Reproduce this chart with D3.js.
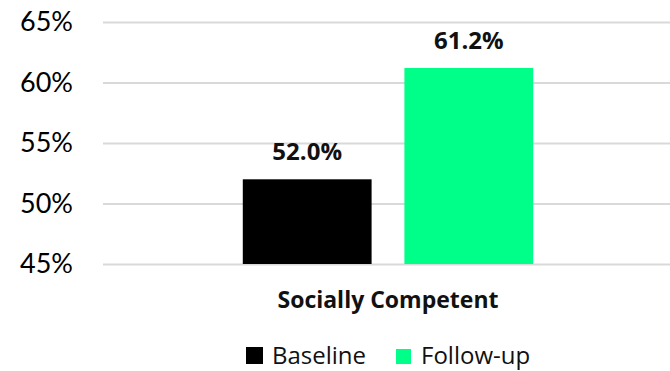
<!DOCTYPE html>
<html>
<head>
<meta charset="utf-8">
<script src="https://cdn.jsdelivr.net/npm/d3@7"></script>
<style>
  html, body { margin: 0; padding: 0; background: #fff; }
  svg { display: block; font-family: "Open Sans", Lato, sans-serif; }
</style>
</head>
<body>
<svg id="chart" width="670" height="371"></svg>
<script>
const categories = ["Socially Competent"];
const seriesNames = ["Baseline", "Follow-up"];
const baselineValues = [52.0];
const followupValues = [61.2];
const yTicks = [45, 50, 55, 60, 65];
const colors = ["#000000", "#00FF88"];

const svg = d3.select("#chart");
const plotLeft = 103, plotRight = 670, yTop = 22, yBottom = 264;

const y = d3.scaleLinear().domain([45, 65]).range([yBottom, yTop]);
const x0 = d3.scaleBand().domain(categories).range([plotLeft + 3, plotRight])
  .paddingInner(0).paddingOuter(0.471);
const x1 = d3.scaleBand().domain(seriesNames).range([0, x0.bandwidth()])
  .paddingInner(0.203).paddingOuter(0);
const color = d3.scaleOrdinal().domain(seriesNames).range(colors);

// gridlines
const yAxis = d3.axisLeft(y).tickValues(yTicks).tickFormat(d => d + "%")
  .tickSize(-(plotRight - plotLeft)).tickPadding(30);
const gAxis = svg.append("g").attr("transform", `translate(${plotLeft},0)`).call(yAxis);
gAxis.select(".domain").remove();
gAxis.selectAll(".tick line").attr("stroke", "#d9d9d9").attr("stroke-width", 2);
gAxis.selectAll(".tick text").attr("fill", "#000").style("font-size", "27px")
  .style("font-family", "Lato, 'Open Sans', sans-serif");

const data = categories.map((c, i) => ({
  category: c,
  values: [
    { series: seriesNames[0], value: baselineValues[i] },
    { series: seriesNames[1], value: followupValues[i] }
  ]
}));

const groups = svg.selectAll("g.group").data(data).enter().append("g")
  .attr("class", "group")
  .attr("transform", d => `translate(${x0(d.category)},0)`);

groups.selectAll("rect").data(d => d.values).enter().append("rect")
  .attr("x", d => x1(d.series))
  .attr("y", d => y(d.value))
  .attr("width", x1.bandwidth())
  .attr("height", d => y(45) - y(d.value))
  .attr("fill", d => color(d.series));

groups.selectAll("text.lbl").data(d => d.values).enter().append("text")
  .attr("class", "lbl")
  .attr("x", d => x1(d.series) + x1.bandwidth() / 2)
  .attr("y", d => y(d.value) - 19)
  .attr("text-anchor", "middle")
  .style("font-size", "24px").style("font-weight", "bold").attr("fill", "#111")
  .text(d => d.value.toFixed(1) + "%");

// category label
svg.selectAll("text.cat").data(categories).enter().append("text")
  .attr("class", "cat")
  .attr("x", d => x0(d) + x0.bandwidth() / 2)
  .attr("y", 308)
  .attr("text-anchor", "middle")
  .style("font-size", "23px").style("font-weight", "bold").attr("fill", "#111")
  .text(d => d);

// legend
const legendItems = [
  { name: seriesNames[0], sx: 246, size: 17, tx: 272 },
  { name: seriesNames[1], sx: 396, size: 15, tx: 421 }
];
const lg = svg.append("g");
lg.selectAll("rect").data(legendItems).enter().append("rect")
  .attr("x", d => d.sx).attr("y", d => 364 - d.size)
  .attr("width", d => d.size).attr("height", d => d.size)
  .attr("fill", d => color(d.name));
lg.selectAll("text").data(legendItems).enter().append("text")
  .attr("x", d => d.tx).attr("y", 364)
  .style("font-size", "24px").attr("fill", "#111")
  .text(d => d.name);
</script>
</body>
</html>
